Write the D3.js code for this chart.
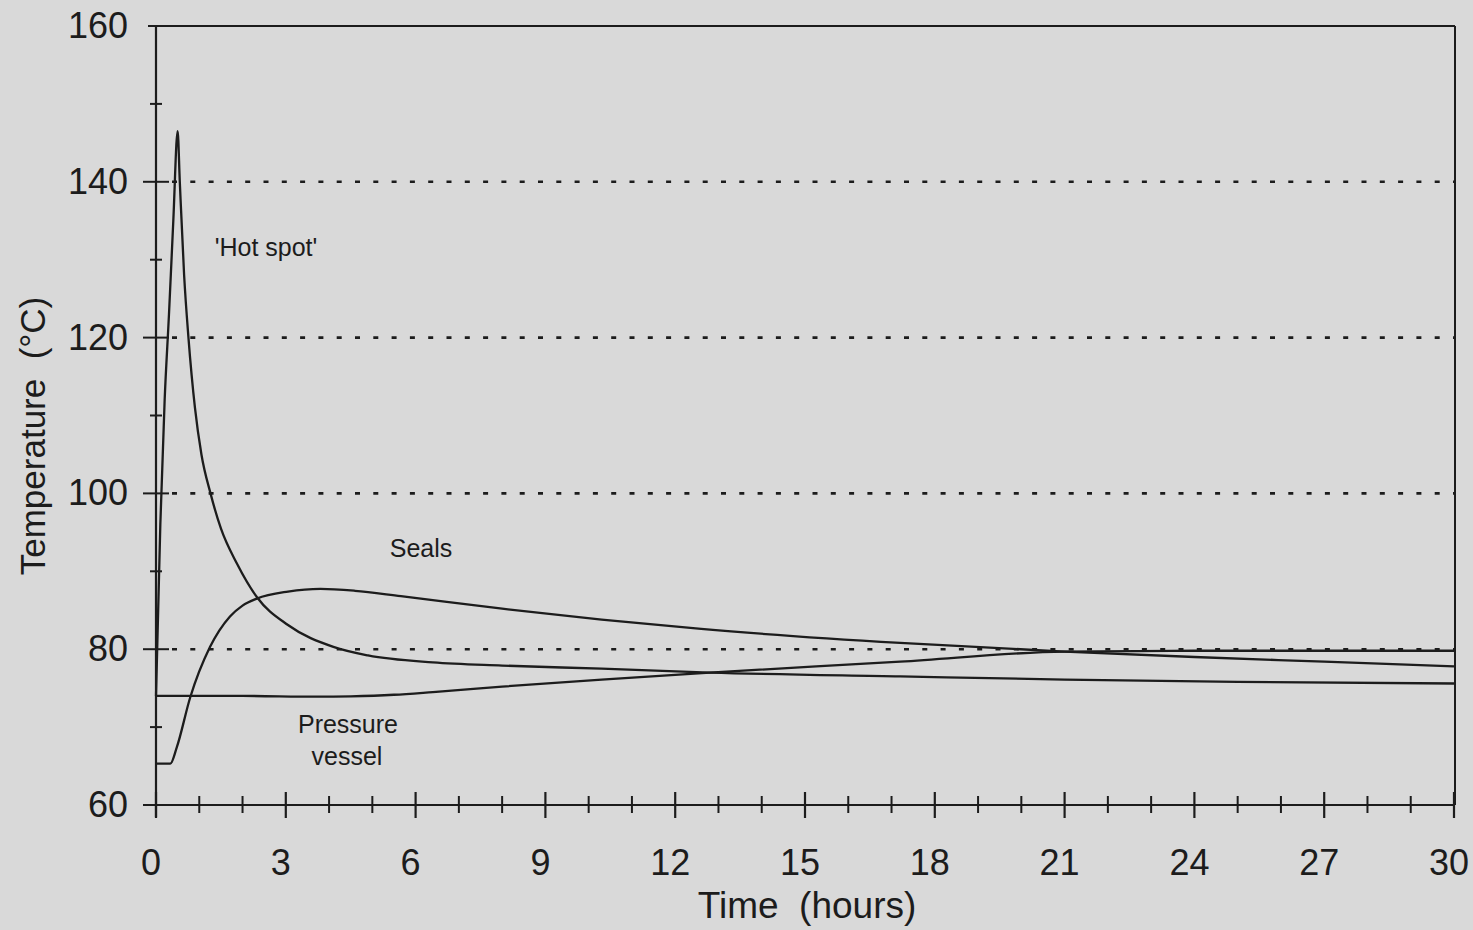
<!DOCTYPE html>
<html>
<head>
<meta charset="utf-8">
<script src="https://cdn.jsdelivr.net/npm/d3@7"></script>
<style>
  body { margin: 0; background: #d9d9d9; }
  svg { display: block; }
  text { font-family: "Liberation Sans", Arial, sans-serif; fill: #1c1c1c; }
</style>
</head>
<body>
<script>
// svg size
var w = 1473, h = 930;

// hours, degrees C
var hotSpot = [
    [0, 74], [0.1, 96], [0.2, 112], [0.3, 123], [0.4, 135], [0.5, 146.5],
    [0.55, 140], [0.65, 128], [0.75, 120], [0.9, 111], [1.05, 105], [1.26, 100],
    [1.5, 95.5], [1.87, 91], [2.33, 86.7], [3.05, 83.1], [4.1, 80.3], [4.9, 79.2],
    [6.4, 78.3], [8, 77.9], [10.3, 77.5], [12.8, 77.0], [17.2, 76.5], [21, 76.1],
    [25, 75.8], [30, 75.6]
];
var seals = [
    [0, 65.3], [0.33, 65.3], [0.48, 67.4], [0.79, 73.8], [1.25, 80.3], [1.71, 84.2],
    [2.0, 85.6], [2.33, 86.5], [3.05, 87.4], [3.8, 87.75], [4.6, 87.5], [5.66, 86.8],
    [8, 85.2], [10.3, 83.8], [12.6, 82.6], [17.2, 80.8], [21, 79.7], [24, 79.0],
    [27, 78.4], [30, 77.8]
];
var pressureVessel = [
    [0, 74], [2, 74], [3.7, 73.9], [4.5, 73.95], [5.5, 74.15], [6.4, 74.5], [8, 75.2],
    [10.3, 76.1], [12.8, 77], [17.2, 78.4], [21, 79.7], [24, 79.8], [30, 79.8]
];

var xMajor = [0, 3, 6, 9, 12, 15, 18, 21, 24, 27, 30];
var xMinor = d3.range(0, 31, 1);
var yMajor = [60, 80, 100, 120, 140, 160];
var yMinor = [70, 90, 110, 130, 150];
var gridValues = [80, 100, 120, 140];

var svg = d3.select("body").append("svg")
    .attr("width", w)
    .attr("height", h);

var x = d3.scaleLinear().domain([0, 30]).range([156, 1454]);
var y = d3.scaleLinear().domain([60, 160]).range([805, 26]);

var ink = "#1c1c1c";

// dotted grid lines
svg.selectAll(".grid")
    .data(gridValues)
    .enter()
    .append("line")
    .attr("class", "grid")
    .attr("x1", x(0) + 16)
    .attr("x2", x(30))
    .attr("y1", function(d){ return y(d); })
    .attr("y2", function(d){ return y(d); })
    .style("stroke", ink)
    .style("stroke-width", 2.6)
    .style("stroke-dasharray", "5,13.3");

// frame: top and right
svg.append("line")
    .attr("x1", x(0) - 8).attr("x2", x(30) + 1)
    .attr("y1", y(160)).attr("y2", y(160))
    .style("stroke", ink).style("stroke-width", 2);
svg.append("line")
    .attr("x1", x(30) + 1).attr("x2", x(30) + 1)
    .attr("y1", y(160)).attr("y2", y(60))
    .style("stroke", ink).style("stroke-width", 2);

// y axis with major and minor ticks
var yAxisMajor = d3.axisLeft(y).tickValues(yMajor).tickSize(0).tickPadding(28).tickFormat(d3.format("d"));
var gy = svg.append("g")
    .attr("transform", "translate(" + x(0) + ",0)")
    .call(yAxisMajor);
gy.select(".domain").remove();
gy.selectAll("text").style("font-size", "36px").attr("fill", ink);

svg.append("line")
    .attr("x1", x(0)).attr("x2", x(0))
    .attr("y1", y(160)).attr("y2", y(60) + 12)
    .style("stroke", ink).style("stroke-width", 2.2);

svg.selectAll(".ymaj")
    .data(yMajor.filter(function(d){ return d > 60 && d < 160; }))
    .enter().append("line")
    .attr("x1", x(0) - 13).attr("x2", x(0) + 13)
    .attr("y1", function(d){ return y(d); })
    .attr("y2", function(d){ return y(d); })
    .style("stroke", ink).style("stroke-width", 2);

svg.selectAll(".ymin")
    .data(yMinor)
    .enter().append("line")
    .attr("x1", x(0) - 6).attr("x2", x(0) + 6)
    .attr("y1", function(d){ return y(d); })
    .attr("y2", function(d){ return y(d); })
    .style("stroke", ink).style("stroke-width", 2);

// x axis
svg.append("line")
    .attr("x1", x(0) - 13).attr("x2", x(30) + 1)
    .attr("y1", y(60)).attr("y2", y(60))
    .style("stroke", ink).style("stroke-width", 2.2);

svg.selectAll(".xmin")
    .data(xMinor.filter(function(d){ return d % 3 !== 0; }))
    .enter().append("line")
    .attr("x1", function(d){ return x(d); })
    .attr("x2", function(d){ return x(d); })
    .attr("y1", y(60) - 9).attr("y2", y(60) + 8)
    .style("stroke", ink).style("stroke-width", 2);

svg.selectAll(".xmaj")
    .data(xMajor)
    .enter().append("line")
    .attr("x1", function(d){ return x(d); })
    .attr("x2", function(d){ return x(d); })
    .attr("y1", y(60) - 13).attr("y2", y(60) + 13)
    .style("stroke", ink).style("stroke-width", 2.2);

svg.selectAll(".xlab")
    .data(xMajor)
    .enter().append("text")
    .attr("x", function(d){ return x(d) - 5; })
    .attr("y", 875)
    .attr("text-anchor", "middle")
    .style("font-size", "36px")
    .text(function(d){ return d; });

// axis titles
svg.append("text")
    .attr("x", 807).attr("y", 918)
    .attr("text-anchor", "middle")
    .style("font-size", "37px")
    .style("white-space", "pre")
    .text("Time  (hours)");

svg.append("text")
    .attr("transform", "translate(45,436) rotate(-90)")
    .attr("text-anchor", "middle")
    .style("font-size", "35px")
    .style("white-space", "pre")
    .text("Temperature  (°C)");

// curves
var line = d3.line()
    .x(function(d){ return x(d[0]); })
    .y(function(d){ return y(d[1]); })
    .curve(d3.curveMonotoneX);

[hotSpot, seals, pressureVessel].forEach(function(series){
    svg.append("path")
        .datum(series)
        .attr("d", line)
        .style("fill", "none")
        .style("stroke", ink)
        .style("stroke-width", 2.3);
});

// curve labels
var labels = [
    { text: "'Hot spot'", x: 266, y: 256 },
    { text: "Seals", x: 421, y: 557 },
    { text: "Pressure", x: 348, y: 733 },
    { text: "vessel", x: 347, y: 765 }
];
svg.selectAll(".lbl")
    .data(labels)
    .enter().append("text")
    .attr("x", function(d){ return d.x; })
    .attr("y", function(d){ return d.y; })
    .attr("text-anchor", "middle")
    .style("font-size", "25px")
    .text(function(d){ return d.text; });
</script>
</body>
</html>
